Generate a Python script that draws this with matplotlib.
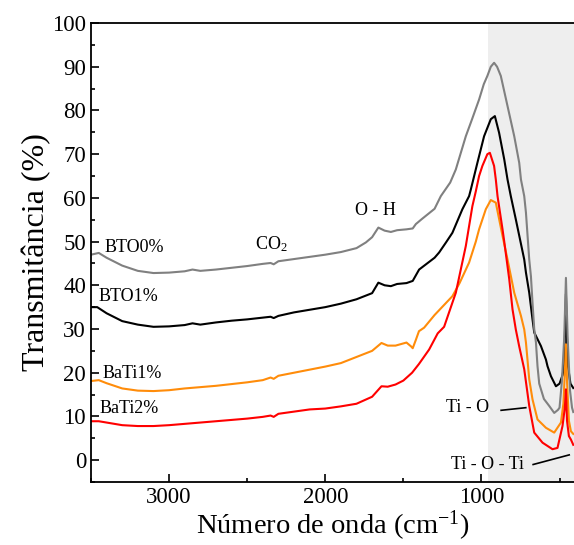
import matplotlib
matplotlib.use("Agg")
import matplotlib.pyplot as plt
from matplotlib.ticker import MultipleLocator

plt.rcParams['font.family'] = ['Liberation Serif', 'DejaVu Serif']
plt.rcParams['mathtext.fontset'] = 'custom'
plt.rcParams['mathtext.rm'] = 'Liberation Serif'
plt.rcParams['mathtext.it'] = 'Liberation Serif:italic'

# BTO0% (grey)
wn_bto0 = [3500, 3450, 3400, 3300, 3200, 3100, 3000, 2900, 2850, 2800, 2700, 2600, 2500, 2400,
           2350, 2330, 2300, 2200, 2100, 2000, 1900, 1800, 1740, 1700, 1660, 1620, 1580, 1540,
           1480, 1440, 1420, 1380, 1300, 1260, 1200, 1164, 1100, 1060, 1015, 985, 962, 940, 919,
           900, 876, 833, 790, 758, 747, 726, 715, 694, 683, 673, 662, 651, 641, 630, 600, 566,
           534, 510, 500, 485, 470, 459, 448, 433, 420, 412]
t_bto0 = [47.0, 47.4, 46.3, 44.5, 43.3, 42.8, 42.9, 43.2, 43.6, 43.3, 43.6, 44.0, 44.4, 44.9,
          45.1, 44.8, 45.5, 46.0, 46.5, 47.0, 47.6, 48.5, 49.8, 51.0, 53.2, 52.5, 52.2, 52.6,
          52.8, 53.0, 54.0, 55.2, 57.5, 60.4, 63.5, 66.5, 74.1, 78.0, 82.5, 86.0, 87.9, 90.0, 90.9,
          90.0, 87.9, 81.0, 74.1, 68.0, 64.2, 60.4, 56.6, 45.9, 42.0, 36.0, 30.0, 26.9, 21.5, 17.5, 14.0, 12.4,
          10.8, 11.5, 12.0, 18.0, 28.0, 41.7, 28.0, 16.0, 12.0, 11.0]

# BTO1% (black)
wn_bto1 = [3500, 3460, 3400, 3300, 3200, 3100, 3000, 2900, 2850, 2800, 2700, 2600, 2500, 2400,
           2350, 2330, 2300, 2200, 2100, 2000, 1900, 1800, 1700, 1660, 1620, 1580, 1540, 1480,
           1440, 1399, 1300, 1271, 1227, 1186, 1122, 1079, 1068, 1026, 983, 940, 914, 887, 854,
           833, 812, 780, 726, 715, 694, 673, 662, 619, 587, 577, 555, 523, 500, 480, 470, 459,
           448, 430, 412]
t_bto1 = [35.0, 35.0, 33.6, 31.8, 31.0, 30.5, 30.6, 30.9, 31.3, 31.0, 31.5, 31.9, 32.2, 32.6,
          32.8, 32.5, 33.0, 33.8, 34.4, 35.0, 35.8, 36.8, 38.2, 40.6, 40.0, 39.8, 40.3, 40.5,
          41.0, 43.6, 46.3, 47.5, 49.8, 52.0, 57.4, 60.4, 61.9, 68.0, 74.1, 78.0, 78.7, 74.9, 68.8,
          64.2, 60.4, 55.1, 45.9, 42.9, 38.3, 32.2, 29.2, 26.1, 23.0, 21.5, 19.2, 16.9, 17.5, 19.5, 22.0, 38.0,
          22.0, 17.5, 16.5]

# BaTi1% (orange)
wn_bati1 = [3500, 3450, 3400, 3300, 3200, 3100, 3000, 2900, 2800, 2700, 2600, 2500, 2400, 2350,
            2330, 2300, 2200, 2100, 2000, 1900, 1800, 1700, 1640, 1600, 1550, 1480, 1450, 1440,
            1420, 1400, 1367, 1300, 1186, 1140, 1079, 1036, 1015, 972, 940, 908, 865, 833, 790,
            747, 726, 715, 694, 673, 641, 587, 534, 491, 475, 466, 459, 452, 440, 427, 412]
t_bati1 = [18.1, 18.3, 17.6, 16.4, 15.9, 15.8, 16.0, 16.4, 16.7, 17.0, 17.4, 17.8, 18.3, 18.9,
           18.6, 19.3, 20.0, 20.7, 21.4, 22.2, 23.6, 25.0, 26.8, 26.2, 26.2, 26.9, 26.0, 25.6,
           27.5, 29.5, 30.3, 33.2, 37.5, 40.5, 45.2, 50.0, 52.8, 57.4, 59.5, 58.9, 51.3, 45.9, 38.3,
           33.0, 29.9, 26.9, 18.5, 13.9, 9.3, 7.4, 6.3, 8.6, 13.0, 20.0, 26.5, 18.0, 9.0, 6.6, 6.0]

# BaTi2% (red)
wn_bati2 = [3500, 3450, 3400, 3300, 3200, 3100, 3000, 2900, 2800, 2700, 2600, 2500, 2400, 2350,
            2330, 2300, 2200, 2100, 2000, 1900, 1800, 1700, 1640, 1600, 1550, 1500, 1444, 1400,
            1335, 1280, 1239, 1164, 1100, 1058, 1036, 1015, 994, 962, 946, 919, 908, 897, 865,
            854, 822, 801, 780, 758, 726, 694, 662, 609, 545, 513, 481, 466, 459, 452, 440, 427, 412]
t_bati2 = [8.9, 8.9, 8.6, 8.0, 7.8, 7.8, 8.0, 8.3, 8.6, 8.9, 9.2, 9.5, 9.9, 10.2,
           9.9, 10.6, 11.1, 11.6, 11.8, 12.3, 12.9, 14.5, 16.9, 16.8, 17.3, 18.2, 20.0, 22.0,
           25.3, 29.0, 30.5, 38.3, 49.0, 58.1, 61.5, 65.0, 67.3, 70.0, 70.3, 67.3, 64.2, 60.4, 52.8,
           50.0, 41.4, 34.5, 29.9, 26.0, 20.8, 12.4, 6.3, 4.0, 2.5, 2.8, 7.8, 12.0, 16.2, 9.0, 5.5, 4.7, 3.5]

fig = plt.figure(figsize=(5.74, 5.45), dpi=100)
ax = fig.add_axes([0.1585, 0.1156, 0.8435, 0.8422])

ax.axvspan(960, 400, color='#eeeeee', zorder=0, lw=0)

ax.plot(wn_bto1, t_bto1, color='black', lw=1.5)
ax.plot(wn_bto0, t_bto0, color='#808080', lw=1.5)
ax.plot(wn_bati1, t_bati1, color='#ff8c0a', lw=1.5)
ax.plot(wn_bati2, t_bati2, color='#ff0000', lw=1.5)

ax.set_xlim(3500, 400)
ax.set_ylim(-5, 100)

ax.xaxis.set_major_locator(MultipleLocator(1000))
ax.xaxis.set_minor_locator(MultipleLocator(500))
ax.yaxis.set_major_locator(MultipleLocator(10))
ax.yaxis.set_minor_locator(MultipleLocator(5))
ax.tick_params(which='both', direction='in', top=False, right=False, labelsize=16.5, width=1.2)
ax.tick_params(which='major', length=6)
ax.tick_params(which='minor', length=3)
for s in ax.spines.values():
    s.set_linewidth(1.3)
ax.spines['right'].set_visible(False)

ax.set_xlabel('Número de onda (cm$^{-1}$)', fontsize=20.5, labelpad=1)
ax.set_ylabel('Transmitância (%)', fontsize=23, labelpad=1)

fs = 13
ax.text(3412, 47.5, 'BTO0%', fontsize=fs)
ax.text(3451, 36.3, 'BTO1%', fontsize=fs)
ax.text(3425, 18.9, 'BaTi1%', fontsize=fs)
ax.text(3444, 10.7, 'BaTi2%', fontsize=fs)
ax.text(2450, 48.2, 'CO$_2$', fontsize=fs)
ax.text(1811, 56.0, 'O - H', fontsize=fs)
ax.text(1226, 10.9, 'Ti - O', fontsize=fs)
ax.text(1196, -2.1, 'Ti - O - Ti', fontsize=fs)
ax.plot([874, 716], [11.4, 12.0], color='black', lw=1.2)
ax.plot([669, 438], [-1.0, 1.2], color='black', lw=1.2)

fig.savefig('out.png', dpi=100)
